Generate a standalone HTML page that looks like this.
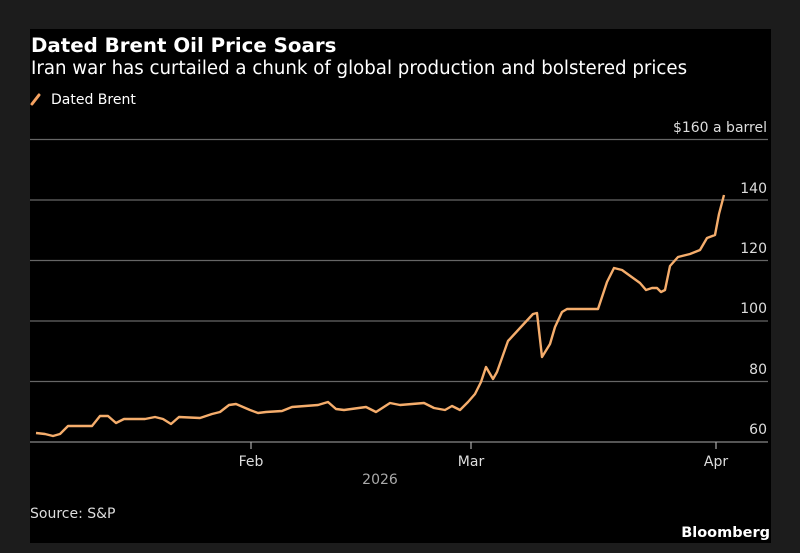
<!DOCTYPE html>
<html><head><meta charset="utf-8"><style>
body{margin:0;background:#1c1c1c;width:800px;height:553px;overflow:hidden;font-family:"DejaVu Sans","Liberation Sans",sans-serif;}
svg{position:absolute;left:0;top:0}
</style></head><body>
<svg width="800" height="553" xmlns="http://www.w3.org/2000/svg">
<rect x="0" y="0" width="800" height="553" fill="#1c1c1c"/>
<rect x="30" y="29" width="741" height="514" fill="#000"/>
<text x="31" y="52" fill="#fff" font-size="19.8" font-weight="bold" font-family="DejaVu Sans, sans-serif">Dated Brent Oil Price Soars</text>
<text x="31" y="74" fill="#fff" font-size="18.2" font-family="DejaVu Sans, sans-serif">Iran war has curtailed a chunk of global production and bolstered prices</text>
<line x1="32" y1="104" x2="39" y2="95" stroke="#f4a261" stroke-width="3" stroke-linecap="round"/>
<text x="51" y="104" fill="#fff" font-size="14" font-family="DejaVu Sans, sans-serif">Dated Brent</text>
<g stroke="#666" stroke-width="1.2">
<line x1="30" y1="139.5" x2="768" y2="139.5"/>
<line x1="30" y1="200" x2="768" y2="200"/>
<line x1="30" y1="260.5" x2="768" y2="260.5"/>
<line x1="30" y1="321" x2="768" y2="321"/>
<line x1="30" y1="381.5" x2="768" y2="381.5"/>
<line x1="30" y1="442" x2="768" y2="442" stroke="#888"/>
<line x1="251" y1="442" x2="251" y2="449" stroke="#aaa"/>
<line x1="471" y1="442" x2="471" y2="449" stroke="#aaa"/>
<line x1="716" y1="442" x2="716" y2="449" stroke="#aaa"/>
</g>
<g fill="#ddd" font-size="14" font-family="DejaVu Sans, sans-serif" text-anchor="end">
<text x="767" y="132">$160 a barrel</text>
<text x="767" y="193">140</text>
<text x="767" y="253">120</text>
<text x="767" y="313">100</text>
<text x="767" y="374">80</text>
<text x="767" y="434">60</text>
</g>
<g fill="#ddd" font-size="14" font-family="DejaVu Sans, sans-serif" text-anchor="middle">
<text x="251" y="466">Feb</text>
<text x="471" y="466">Mar</text>
<text x="716" y="466">Apr</text>
<text x="380" y="484" fill="#aaa">2026</text>
</g>
<text x="30" y="518" fill="#ddd" font-size="14" font-family="DejaVu Sans, sans-serif">Source: S&amp;P</text>
<text x="770" y="537" fill="#fff" font-size="14.5" font-weight="bold" font-family="DejaVu Sans, sans-serif" text-anchor="end">Bloomberg</text>
<polyline fill="none" stroke="#f5ad6c" stroke-width="2.4" stroke-linejoin="round" points="36,433 45,434 53,436 60,434 68,426 92,426 100,416 108,416 116,423 124,419 145,419 155,417 163,419 171,424 179,417 200,418 212,414 220,412 229,405 236,404 250,410 258,413 266,412 282,411 292,407 318,405 328,402 336,409 344,410 366,407 376,412 390,403 400,405 424,403 434,408 445,410 452,406 460,410 468,402 475,394 481,382 486,367 493,379 497,372 508,341 520,328 533,314 537,313 542,357 550,344 555,327 562,312 567,309 598,309 607,282 614,268 622,270 640,283 646,290 652,288 657,288 661,292 665,290 670,266 678,257 690,254 700,250 707,238 715,235 719,214 724,195"/>
</svg>
</body></html>
